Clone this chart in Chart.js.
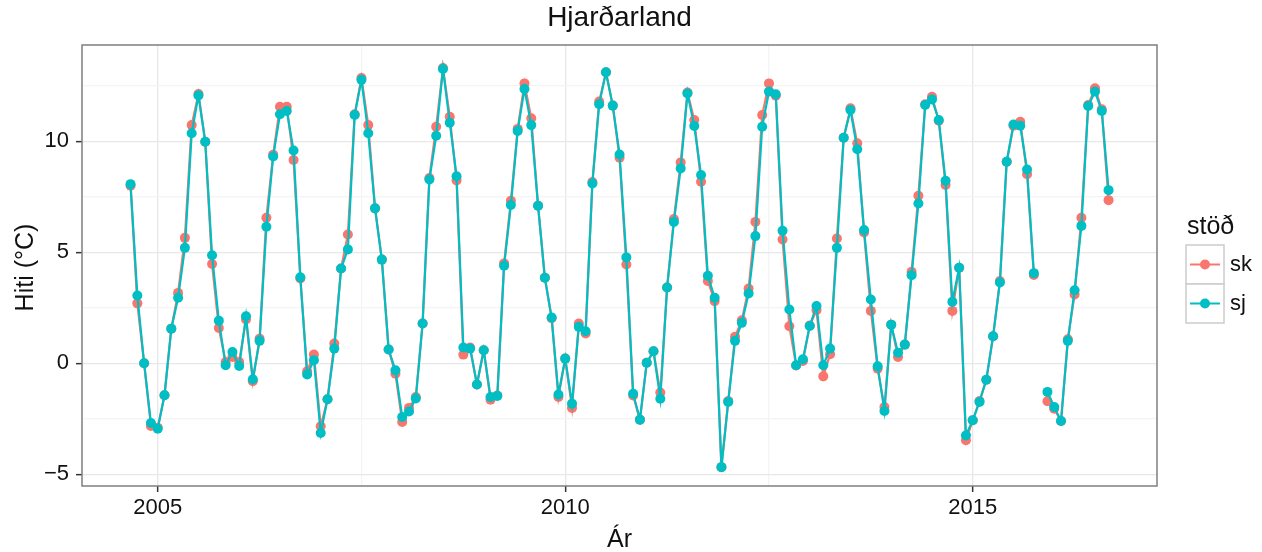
<!DOCTYPE html>
<html>
<head>
<meta charset="utf-8">
<script src="https://cdn.jsdelivr.net/npm/chart.js@4/dist/chart.umd.min.js"></script>
<style>
  html, body { margin: 0; padding: 0; background: #ffffff; }
  #wrap { width: 1262px; height: 552px; position: relative; }
</style>
</head>
<body>
<div id="wrap"><canvas id="c" width="1262" height="552"></canvas></div>
<script>
// ---------- DATA ----------
const chartTitle = "Hjarðarland";
const xTitle = "Ár";
const yTitle = "Hiti (°C)";
const legendTitle = "stöð";
const seriesNames = ["sk", "sj"];

// monthly categories: Sep 2004 .. Sep 2016
const startYear = 2004, startMonth = 9, nMonths = 145;
const months = [];
for (let k = 0; k < nMonths; k++) {
  const m0 = startMonth - 1 + k;
  const yy = startYear + Math.floor(m0 / 12);
  const mm = (m0 % 12) + 1;
  months.push(yy + "-" + String(mm).padStart(2, "0"));
}

const sk = [
  8.0, 2.7, 0.0, -2.83, -2.9, -1.44, 1.56, 3.17, 5.65, 10.73, 12.13, 9.98,
  4.47, 1.59, 0.06, 0.28, 0.06, 1.97, -0.81, 1.11, 6.56, 9.4, 11.56, 11.56,
  9.16, 3.82, -0.36, 0.39, -2.84, -1.62, 0.89, 4.27, 5.8, 11.22, 12.85, 10.73,
  6.98, 4.67, 0.62, -0.47, -2.65, -2.01, -1.52, 1.79, 8.35, 10.66, 13.3, 11.11,
  8.24, 0.39, 0.71, -0.96, 0.59, -1.64, -1.45, 4.5, 7.32, 10.56, 12.61, 11.04,
  7.1, 3.85, 2.03, -1.52, 0.21, -2.01, 1.79, 1.34, 8.17, 11.79, 13.11, 11.61,
  9.26, 4.45, -1.45, -2.54, 0.02, 0.54, -1.32, 3.41, 6.5, 9.05, 12.2, 10.96,
  8.18, 3.71, 2.8, -4.68, -1.7, 1.19, 1.94, 3.37, 6.37, 11.19, 12.61, 12.06,
  5.58, 1.67, -0.1, 0.1, 1.7, 2.39, -0.59, 0.41, 5.62, 10.16, 11.49, 9.91,
  5.89, 2.36, -0.24, -1.97, 1.74, 0.28, 0.84, 4.12, 7.55, 11.67, 12.01, 10.93,
  8.03, 2.36, 4.3, -3.47, -2.57, -1.7, -0.74, 1.22, 3.71, 9.08, 10.7, 10.88,
  8.52, 3.98, null, -1.71, -2.05, -2.6, 1.08, 3.1, 6.56, 11.64, 12.39, 11.44,
  7.35
];
const sj = [
  8.07, 3.05, 0.0, -2.69, -2.95, -1.44, 1.56, 2.95, 5.2, 10.36, 12.07, 9.98,
  4.87, 1.92, -0.09, 0.51, -0.12, 2.12, -0.72, 1.01, 6.15, 9.32, 11.22, 11.37,
  9.59, 3.87, -0.51, 0.14, -3.14, -1.62, 0.66, 4.27, 5.13, 11.19, 12.77, 10.36,
  6.98, 4.67, 0.62, -0.32, -2.42, -2.17, -1.59, 1.79, 8.28, 10.25, 13.26, 10.84,
  8.43, 0.71, 0.66, -0.96, 0.59, -1.52, -1.47, 4.39, 7.13, 10.47, 12.36, 10.73,
  7.1, 3.85, 2.06, -1.41, 0.21, -1.82, 1.64, 1.44, 8.1, 11.67, 13.11, 11.61,
  9.41, 4.77, -1.37, -2.54, 0.02, 0.54, -1.6, 3.41, 6.37, 8.78, 12.16, 10.69,
  8.48, 3.94, 2.95, -4.68, -1.74, 1.01, 1.82, 3.14, 5.73, 10.66, 12.24, 12.12,
  5.97, 2.42, -0.09, 0.18, 1.68, 2.58, -0.09, 0.66, 5.2, 10.16, 11.41, 9.64,
  6.0, 2.87, -0.14, -2.15, 1.74, 0.47, 0.84, 3.97, 7.2, 11.64, 11.89, 10.96,
  8.22, 2.77, 4.3, -3.25, -2.57, -1.74, -0.74, 1.22, 3.64, 9.08, 10.76, 10.7,
  8.73, 4.06, null, -1.29, -1.97, -2.6, 1.01, 3.29, 6.19, 11.59, 12.24, 11.37,
  7.8
];

const xTicks = [2005, 2007.5, 2010, 2012.5, 2015];
const xMajor = [2005, 2010, 2015];
const yTicks = [-5, -2.5, 0, 2.5, 5, 7.5, 10, 12.5];
const yMajor = [-5, 0, 5, 10];
const xRange = [2004.071, 2017.261];
const yRange = [-5.53, 14.34];

// ---------- STYLE ----------
const colors = { sk: "#F8766D", sj: "#00BFC4" };
const FONT = "'Liberation Sans', Arial, Helvetica, sans-serif";
const TEXT = "#111111";

function monthToYear(s) {
  const [y, m] = s.split("-").map(Number);
  return y + (m - 1) / 12;
}
function toPoints(vals) {
  return months.map((mo, i) => ({ x: monthToYear(mo), y: vals[i] }));
}

const isMajor = (arr, v) => arr.some(a => Math.abs(a - v) < 1e-9);
const fmt = v => (v < 0 ? "\u2212" + Math.abs(v) : String(v));

const overlay = {
  id: "overlay",
  afterDraw(chart) {
    const ctx = chart.ctx;
    const a = chart.chartArea;
    ctx.save();
    // panel border
    ctx.strokeStyle = "#7f7f7f";
    ctx.lineWidth = 1.5;
    ctx.strokeRect(a.left, a.top, a.right - a.left, a.bottom - a.top);

    ctx.fillStyle = TEXT;
    // title
    ctx.font = "28px " + FONT;
    ctx.textAlign = "center";
    ctx.textBaseline = "alphabetic";
    ctx.fillText(chartTitle, (a.left + a.right) / 2, 26);
    // x title
    ctx.font = "25px " + FONT;
    ctx.fillText(xTitle, (a.left + a.right) / 2, 547);
    // y title
    ctx.save();
    ctx.translate(33, (a.top + a.bottom) / 2 + 2);
    ctx.rotate(-Math.PI / 2);
    ctx.fillText(yTitle, 0, 0);
    ctx.restore();

    // legend
    ctx.textAlign = "left";
    ctx.font = "25px " + FONT;
    ctx.fillText(legendTitle, 1187, 234);
    const keyX = 1186, keyW = 38, keyH = 39;
    const keyY0 = 245;
    seriesNames.forEach((name, k) => {
      const y0 = keyY0 + k * keyH;
      ctx.fillStyle = "#ffffff";
      ctx.fillRect(keyX, y0, keyW, keyH);
      ctx.strokeStyle = "#cccccc";
      ctx.lineWidth = 1.5;
      ctx.strokeRect(keyX, y0, keyW, keyH);
      const cy = y0 + keyH / 2;
      ctx.strokeStyle = colors[name];
      ctx.lineWidth = 2;
      ctx.beginPath();
      ctx.moveTo(keyX + 4, cy);
      ctx.lineTo(keyX + keyW - 4, cy);
      ctx.stroke();
      ctx.fillStyle = colors[name];
      ctx.beginPath();
      ctx.arc(keyX + keyW / 2, cy, 5, 0, Math.PI * 2);
      ctx.fill();
      ctx.fillStyle = TEXT;
      ctx.font = "22px " + FONT;
      ctx.textBaseline = "middle";
      ctx.fillText(name, 1230, cy);
      ctx.textBaseline = "alphabetic";
    });
    ctx.restore();
  }
};

new Chart(document.getElementById("c"), {
  type: "line",
  data: {
    datasets: [
      {
        label: "sk",
        data: toPoints(sk),
        borderColor: colors.sk,
        backgroundColor: colors.sk,
        pointBackgroundColor: colors.sk,
        borderWidth: 2.2,
        pointRadius: 5,
        pointBorderWidth: 0,
        pointHoverRadius: 5,
        tension: 0,
        spanGaps: false,
        order: 2
      },
      {
        label: "sj",
        data: toPoints(sj),
        borderColor: colors.sj,
        backgroundColor: colors.sj,
        pointBackgroundColor: colors.sj,
        borderWidth: 2.2,
        pointRadius: 5,
        pointBorderWidth: 0,
        pointHoverRadius: 5,
        tension: 0,
        spanGaps: false,
        order: 1
      }
    ]
  },
  options: {
    responsive: false,
    animation: false,
    devicePixelRatio: 1,
    layout: { padding: { left: 0, top: 45, right: 105, bottom: 0 } },
    plugins: {
      legend: { display: false },
      title: { display: false },
      tooltip: { enabled: false }
    },
    events: [],
    scales: {
      x: {
        type: "linear",
        min: xRange[0],
        max: xRange[1],
        afterBuildTicks: s => { s.ticks = xTicks.map(v => ({ value: v })); },
        afterFit: s => { s.height = 66; },
        border: { display: false },
        grid: {
          color: c => (c.tick && isMajor(xMajor, c.tick.value)) ? "#e8e8e8" : "#f4f4f4",
          lineWidth: 1.3,
          tickLength: 6,
          tickColor: c => (c.tick && isMajor(xMajor, c.tick.value)) ? "#333333" : "rgba(0,0,0,0)",
          tickWidth: 1.5
        },
        ticks: {
          autoSkip: false,
          maxRotation: 0,
          padding: 3,
          color: TEXT,
          font: { size: 22, family: FONT },
          callback: v => isMajor(xMajor, v) ? String(v) : ""
        }
      },
      y: {
        type: "linear",
        min: yRange[0],
        max: yRange[1],
        afterBuildTicks: s => { s.ticks = yTicks.map(v => ({ value: v })); },
        afterFit: s => { s.width = 82; },
        border: { display: false },
        grid: {
          color: c => (c.tick && isMajor(yMajor, c.tick.value)) ? "#e8e8e8" : "#f4f4f4",
          lineWidth: 1.3,
          tickLength: 6,
          tickColor: c => (c.tick && isMajor(yMajor, c.tick.value)) ? "#333333" : "rgba(0,0,0,0)",
          tickWidth: 1.5
        },
        ticks: {
          autoSkip: false,
          padding: 7,
          color: TEXT,
          font: { size: 22, family: FONT },
          callback: v => isMajor(yMajor, v) ? fmt(v) : ""
        }
      }
    }
  },
  plugins: [overlay]
});
</script>
</body>
</html>
